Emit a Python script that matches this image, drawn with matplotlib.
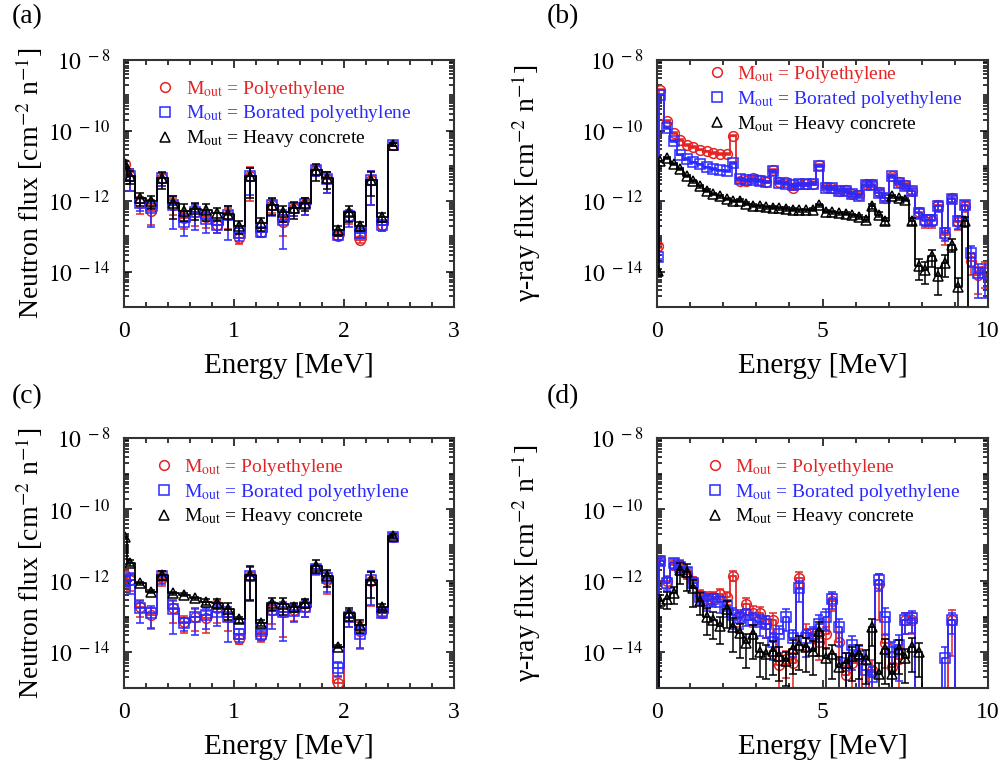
import numpy as np
import matplotlib.pyplot as plt
from matplotlib.lines import Line2D
from matplotlib.ticker import FixedLocator, LogLocator, MultipleLocator, FuncFormatter, NullFormatter

plt.rcParams['font.family'] = ['Liberation Serif', 'DejaVu Serif']
plt.rcParams['mathtext.fontset'] = 'stix'

RED = '#e42424'
BLUE = '#2a2aff'
BLACK = '#000000'

# ---- neutron spectra, panels (a) and (c): bin centres [MeV]
e_neutron = [0.005, 0.055, 0.15, 0.25, 0.35, 0.45, 0.55, 0.65, 0.75, 0.85, 0.95,
             1.05, 1.15, 1.25, 1.35, 1.45, 1.55, 1.65, 1.75, 1.85, 1.95,
             2.05, 2.15, 2.25, 2.35, 2.45]

# log10 of flux
a_pe = [-10.95, -11.3, -12.06, -12.27, -11.35, -12.1, -12.49, -12.3, -12.45, -12.68, -12.4, -13.05, -11.3,
        -12.87, -12.12, -12.6, -12.2, -12.08, -11.12, -11.38, -13.0, -12.42, -13.1, -11.4, -12.68, -10.4]
a_bpe = [-11.3, -11.3, -12.06, -12.2, -11.35, -12.1, -12.58, -12.3, -12.5, -12.68, -12.4, -12.9, -11.3,
         -12.87, -12.12, -12.53, -12.2, -12.08, -11.12, -11.38, -12.95, -12.42, -12.9, -11.4, -12.68, -10.4]
a_hc = [-10.95, -11.3, -11.92, -12.0, -11.35, -12.06, -12.27, -12.23, -12.25, -12.33, -12.35, -12.7, -11.3,
        -12.63, -12.1, -12.3, -12.2, -12.06, -11.12, -11.35, -12.82, -12.3, -12.7, -11.4, -12.44, -10.4]
a_pe_err = [0.2, 0.6, 0.5, 0.6, 0.4, 0.5, 0.5, 0.6, 0.5, 0.4, 0.6, 0.3, 0.8,
            0.3, 0.4, 0.6, 0.4, 0.5, 0.3, 0.6, 0.2, 0.4, 0.2, 0.8, 0.3, 0.1]
a_bpe_err = [0.2, 0.6, 0.4, 0.7, 0.4, 0.8, 0.6, 0.7, 0.6, 0.4, 0.8, 0.4, 0.7,
             0.3, 0.5, 0.85, 0.4, 0.5, 0.3, 0.6, 0.3, 0.5, 0.3, 0.8, 0.3, 0.1]
a_hc_err = [0.2, 0.4, 0.4, 0.4, 0.5, 0.65, 0.5, 0.5, 0.5, 0.4, 0.65, 0.4, 0.75,
            0.4, 0.5, 0.5, 0.5, 0.4, 0.5, 0.5, 0.3, 0.5, 0.3, 0.65, 0.3, 0.1]

c_pe = [-11.83, -11.97, -12.72, -12.96, -11.92, -12.77, -13.15, -13.0, -13.05, -12.77, -13.0, -13.62, -11.87,
        -13.55, -12.82, -12.87, -12.82, -12.72, -11.68, -11.97, -14.85, -13.0, -13.39, -12.01, -12.89, -10.78]
c_bpe = [-12.01, -11.97, -12.77, -12.91, -11.87, -12.8, -13.18, -13.0, -12.96, -12.87, -13.0, -13.48, -11.87,
         -13.5, -12.82, -12.87, -12.84, -12.72, -11.66, -11.92, -14.43, -13.0, -13.48, -11.97, -12.91, -10.78]
c_hc = [-10.78, -11.49, -12.06, -12.3, -11.83, -12.35, -12.39, -12.49, -12.58, -12.63, -12.8, -13.08, -11.83,
        -13.18, -12.63, -12.66, -12.72, -12.61, -11.57, -11.87, -13.84, -12.91, -13.24, -11.97, -12.72, -10.74]
c_pe_err = [0.3, 0.5, 0.5, 0.6, 0.4, 0.6, 0.5, 0.6, 0.6, 0.6, 0.6, 0.3, 0.8,
            0.3, 0.6, 0.8, 0.5, 0.5, 0.3, 0.6, 0.4, 0.5, 0.7, 0.8, 0.2, 0.1]
c_bpe_err = [0.3, 0.6, 0.6, 0.6, 0.4, 0.8, 0.4, 0.7, 0.6, 0.6, 0.8, 0.4, 0.8,
             0.3, 0.7, 0.85, 0.5, 0.5, 0.3, 0.6, 0.4, 0.5, 0.6, 0.8, 0.2, 0.1]
c_hc_err = [0.1, 0.2, 0.1, 0.1, 0.3, 0.1, 0.1, 0.1, 0.2, 0.3, 0.5, 0.2, 0.8,
            0.2, 0.4, 0.5, 0.3, 0.3, 0.4, 0.5, 0.1, 0.4, 0.4, 0.7, 0.2, 0.1]

# ---- gamma spectra, panels (b) and (d): bin centres [MeV]
e_gamma = [0.02] + [round(0.1 + 0.2 * i, 1) for i in range(50)]
nan = np.nan

b_pe = [-13.28, -8.84, -9.72, -10.07, -10.26, -10.4, -10.47, -10.54, -10.59, -10.63, -10.66, -10.66, -10.14,
        -11.44, -11.44, -11.33, -11.4, -11.45, -11.12, -11.45, -11.47, -11.62, -11.5, -11.52, -11.5, -10.97,
        -11.6, -11.62, -11.7, -11.68, -11.8, -11.82,
        -11.5, -11.5, -11.75, -11.9, -11.28, -11.45, -11.55, -11.7, -12.3, -12.55, -12.55, -12.1, -12.95,
        -11.92, -12.6, -12.15, -13.7, -14.1, -13.95]
b_bpe = [-13.58, -8.98, -9.92, -10.3, -10.68, -10.8, -10.9, -10.96, -11.04, -11.09, -11.13, -11.15, -10.92,
         -11.37, -11.4, -11.4, -11.42, -11.45, -11.15, -11.48, -11.5, -11.55, -11.52, -11.52, -11.5, -11.0,
         -11.62, -11.62, -11.72, -11.7, -11.8, -11.85,
         -11.53, -11.53, -11.77, -11.91, -11.3, -11.48, -11.58, -11.72, -12.34, -12.52, -12.52, -12.15, -12.9,
         -11.94, -12.57, -12.1, -13.47, -14.04, -14.04]
b_hc = [-13.99, -10.87, -10.78, -10.94, -11.09, -11.28, -11.44, -11.58, -11.7, -11.79, -11.86, -11.94, -11.99,
        -11.99, -12.07, -12.13, -12.15, -12.17, -12.18, -12.2, -12.22, -12.24, -12.25, -12.25, -12.24, -12.12,
        -12.3, -12.32, -12.34, -12.35, -12.4, -12.45,
        -12.52, -12.15, -12.38, -12.57, -11.86, -11.91, -11.96, -12.57, -13.85, -13.94, -13.56, -14.13, -13.74,
        -13.23, -14.42, -12.57, nan, nan, nan]
b_pe_err = [0.1, 0.03, 0.05, 0.05, 0.05, 0.05, 0.05, 0.05, 0.05, 0.05, 0.05, 0.05, 0.05,
            0.08, 0.08, 0.1, 0.08, 0.08, 0.1, 0.1, 0.1, 0.12, 0.1, 0.1, 0.1, 0.06,
            0.12, 0.12, 0.15, 0.12, 0.15, 0.15,
            0.15, 0.15, 0.2, 0.2, 0.1, 0.12, 0.15, 0.2, 0.3, 0.4, 0.4, 0.3, 0.5,
            0.25, 0.4, 0.3, 0.6, 0.7, 0.7]
b_bpe_err = [0.1, 0.03, 0.05, 0.05, 0.05, 0.05, 0.05, 0.05, 0.05, 0.05, 0.05, 0.05, 0.05,
             0.08, 0.08, 0.1, 0.08, 0.08, 0.1, 0.1, 0.1, 0.12, 0.1, 0.1, 0.1, 0.06,
             0.12, 0.12, 0.15, 0.12, 0.15, 0.15,
             0.15, 0.15, 0.2, 0.2, 0.1, 0.12, 0.15, 0.2, 0.3, 0.35, 0.35, 0.3, 0.4,
             0.2, 0.4, 0.3, 0.6, 0.8, 0.8]
b_hc_err = [0.2, 0.05, 0.05, 0.05, 0.08, 0.08, 0.08, 0.08, 0.08, 0.08, 0.08, 0.08, 0.08,
            0.1, 0.1, 0.1, 0.1, 0.1, 0.1, 0.1, 0.1, 0.1, 0.1, 0.1, 0.1, 0.1,
            0.1, 0.1, 0.1, 0.1, 0.12, 0.12,
            0.15, 0.15, 0.15, 0.2, 0.1, 0.1, 0.1, 0.2, 0.6, 0.6, 0.5, 0.7, 0.6,
            0.4, 0.8, 0.3, 0.5, 0.5, 0.5]

d_pe = [nan, -11.42, -12.0, -11.55, -11.55, -11.8, -12.0, -12.4, -12.5, -12.45, -12.38, -12.45, -11.85,
        -13.0, -12.65, -12.9, -12.9, -13.2, -13.1, -14.35, -14.2, -14.3, -11.92, -13.45, -13.55, -13.7,
        -13.5, -12.55, -13.7, -14.65, -14.3, -14.2,
        nan, -14.5, -12.1, -13.75, -14.4, -14.2, -13.1, -13.1, nan, nan, nan, nan, nan,
        -13.1, nan, nan, nan, nan, nan]
d_bpe = [nan, -11.45, -12.05, -11.5, -11.6, -11.75, -12.05, -12.45, -12.55, -12.5, -12.6, -12.7, -12.95,
         -13.05, -12.95, -13.1, -13.15, -13.2, -13.7, -13.5, -13.0, -13.6, -12.2, -13.6, -13.5, -13.2,
         -13.0, -12.5, -13.3, -14.3, -13.8, -14.1,
         -14.5, -14.7, -11.98, -13.0, -14.0, -13.8, -13.1, -13.05, nan, nan, nan, nan, -14.15,
         -13.1, nan, nan, nan, nan, nan]
d_hc = [nan, -12.55, -12.5, -12.35, -11.7, -11.75, -12.2, -12.55, -13.0, -13.1, -13.25, -12.8, -13.3,
        -13.45, -13.75, -13.5, -14.0, -14.05, -13.95, -14.1, -14.25, -13.9, -13.8, -13.85, -13.95, -13.4,
        -14.15, -14.05, -14.4, -14.3, -14.1, -14.05,
        -14.2, -13.3, -14.6, -13.9, -14.6, -13.9, -14.15, -13.85, -14.0, nan, nan, nan, nan,
        nan, nan, nan, nan, nan, nan]
d_pe_err = [0.5, 0.2, 0.4, 0.3, 0.4, 0.3, 0.3, 0.4, 0.5, 0.4, 0.4, 0.4, 0.3,
            0.5, 0.5, 0.6, 0.5, 0.6, 0.6, 0.9, 0.7, 0.9, 0.5, 0.7, 0.6, 0.7,
            0.6, 0.5, 0.7, 0.9, 0.8, 0.9,
            0.9, 0.9, 0.9, 0.8, 0.9, 0.9, 0.6, 0.6, 0.9, 0.9, 0.9, 0.9, 0.9,
            0.9, 0.9, 0.9, 0.9, 0.9, 0.9]
d_bpe_err = [0.5, 0.2, 0.4, 0.3, 0.4, 0.3, 0.3, 0.4, 0.5, 0.4, 0.5, 0.5, 0.6,
             0.5, 0.5, 0.6, 0.6, 0.6, 0.7, 0.7, 0.6, 0.7, 0.6, 0.7, 0.6, 0.7,
             0.6, 0.5, 0.7, 0.9, 0.8, 0.9,
             0.9, 0.9, 0.5, 0.7, 0.9, 0.9, 0.6, 0.6, 0.9, 0.9, 0.9, 0.9, 0.95,
             0.6, 0.9, 0.9, 0.9, 0.9, 0.9]
d_hc_err = [0.5, 0.4, 0.5, 0.5, 0.6, 0.7, 0.7, 0.6, 0.7, 0.7, 0.7, 0.7, 0.8,
            0.8, 0.8, 0.8, 0.8, 0.8, 0.8, 0.8, 0.8, 0.8, 0.8, 0.8, 0.8, 0.8,
            0.9, 0.8, 0.9, 0.9, 0.8, 0.8,
            0.8, 0.7, 0.95, 0.9, 0.9, 0.8, 0.8, 0.8, 0.8, 0.8, 0.8, 0.8, 0.8,
            0.8, 0.8, 0.8, 0.8, 0.8, 0.8]

labels = [r'M$_{\rm out}$ = Polyethylene', r'M$_{\rm out}$ = Borated polyethylene',
          r'M$_{\rm out}$ = Heavy concrete']
colors = [RED, BLUE, BLACK]
markers = ['o', 's', '^']


def draw(ax, x, logy, err, color, marker):
    y = 10.0 ** np.array(logy)
    e = np.array(err)
    # empty bins (zero flux) drop to the bottom of the log axis
    y_step = np.where(np.isnan(y), 1e-20, y)
    ax.plot(x, y_step, drawstyle='steps-mid', color=color, lw=1.3)
    ax.errorbar(x, y, yerr=[y * e, y * e], fmt='none', ecolor=color, elinewidth=1.1,
                capsize=3, capthick=1.1)
    ax.plot(x, y, ls='none', marker=marker, ms=7, mfc='none', mec=color, mew=1.1)


def style(ax, xmax, ylabel, ylab_x, leg_x, leg_y):
    ax.set_yscale('log')
    ax.set_xlim(0, xmax)
    ax.set_ylim(1e-15, 1e-8)
    ax.yaxis.set_major_locator(FixedLocator([1e-14, 1e-12, 1e-10, 1e-8]))
    ax.yaxis.set_minor_locator(LogLocator(base=10, subs=np.arange(1, 10), numticks=30))
    ax.yaxis.set_minor_formatter(NullFormatter())
    ax.yaxis.set_major_formatter(FuncFormatter(lambda v, p: r'$10^{\ %d}$' % round(np.log10(v))))
    if xmax == 3:
        ax.xaxis.set_major_locator(MultipleLocator(1))
        ax.xaxis.set_minor_locator(MultipleLocator(0.2))
    else:
        ax.xaxis.set_major_locator(MultipleLocator(5))
        ax.xaxis.set_minor_locator(MultipleLocator(1))
    ax.tick_params(which='both', direction='in', top=True, right=True, labelsize=17, width=1.1)
    ax.tick_params(which='major', length=6, pad=10)
    ax.tick_params(which='minor', length=3.5)
    for s in ax.spines.values():
        s.set_linewidth(1.5)
        s.set_color('#333333')
    ax.set_xlabel('Energy [MeV]', fontsize=21)
    ax.xaxis.set_label_coords(0.5, -0.185)
    ax.set_ylabel(ylabel, fontsize=20)
    ax.yaxis.set_label_coords(ylab_x, 0.5)
    handles = [Line2D([], [], ls='none', marker=m, ms=7, mfc='none', mec=c, mew=1.1)
               for m, c in zip(markers, colors)]
    leg = ax.legend(handles, labels, loc='upper left', bbox_to_anchor=(leg_x, leg_y),
                    frameon=False, fontsize=14, handlelength=1.0, handletextpad=0.55,
                    labelspacing=0.2, borderpad=0.2)
    for t, c in zip(leg.get_texts(), colors):
        t.set_color(c)


fig = plt.figure(figsize=(9.98, 7.63), dpi=100)
ax_a = fig.add_axes([0.1242, 0.5976, 0.3307, 0.3237])
ax_b = fig.add_axes([0.6583, 0.5976, 0.3317, 0.3237])
ax_c = fig.add_axes([0.1242, 0.0983, 0.3307, 0.3276])
ax_d = fig.add_axes([0.6583, 0.0983, 0.3317, 0.3276])

for logy, err, c, m in zip([a_pe, a_bpe, a_hc], [a_pe_err, a_bpe_err, a_hc_err], colors, markers):
    draw(ax_a, e_neutron, logy, err, c, m)
for logy, err, c, m in zip([b_pe, b_bpe, b_hc], [b_pe_err, b_bpe_err, b_hc_err], colors, markers):
    draw(ax_b, e_gamma, logy, err, c, m)
for logy, err, c, m in zip([c_pe, c_bpe, c_hc], [c_pe_err, c_bpe_err, c_hc_err], colors, markers):
    draw(ax_c, e_neutron, logy, err, c, m)
for logy, err, c, m in zip([d_pe, d_bpe, d_hc], [d_pe_err, d_bpe_err, d_hc_err], colors, markers):
    draw(ax_d, e_gamma, logy, err, c, m)

nflux = r'Neutron flux [cm$^{-2}$ n$^{-1}$]'
gflux = r'γ-ray flux [cm$^{-2}$ n$^{-1}$]'
style(ax_a, 3, nflux, -0.24, 0.055, 0.98)
style(ax_b, 10, gflux, -0.345, 0.11, 1.04)
style(ax_c, 3, nflux, -0.24, 0.05, 0.98)
style(ax_d, 10, gflux, -0.345, 0.105, 0.98)

for lab, xx, yy in [('(a)', 0.012, 0.995), ('(b)', 0.548, 0.995),
                    ('(c)', 0.012, 0.497), ('(d)', 0.548, 0.497)]:
    fig.text(xx, yy, lab, fontsize=20, va='top', ha='left')

fig.savefig('out.png', dpi=100)
